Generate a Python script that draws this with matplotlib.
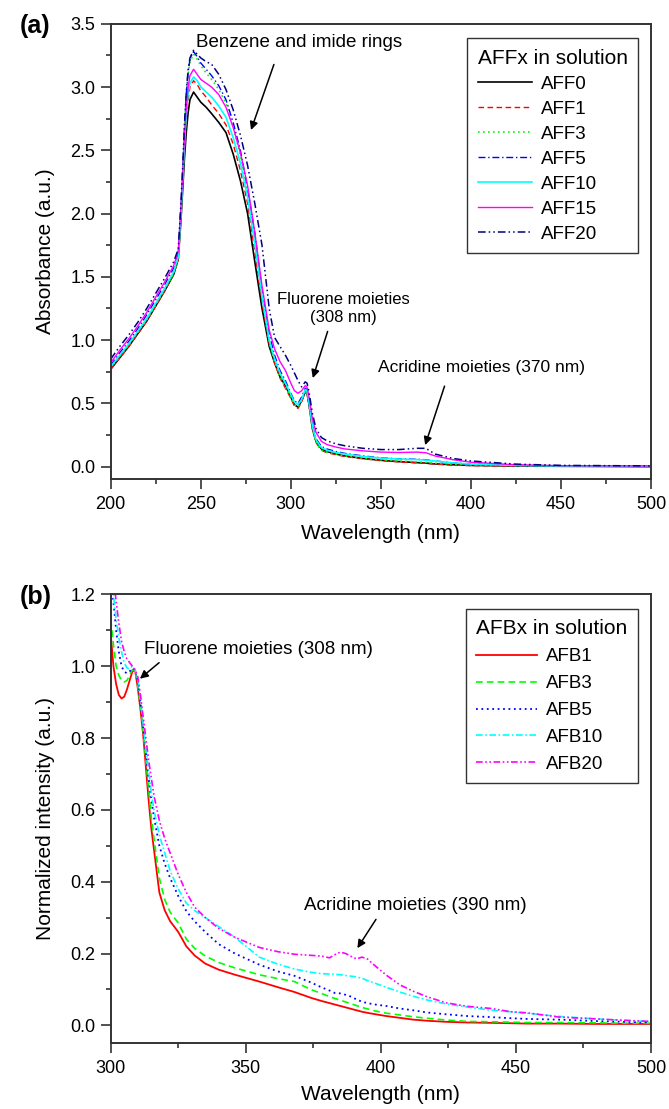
import matplotlib
matplotlib.use('Agg')
import matplotlib.pyplot as plt
from matplotlib.ticker import MultipleLocator

plt.rcParams['font.family'] = ['Liberation Sans', 'DejaVu Sans']

# ---- panel (a): absorbance of AFFx in solution ----
wl_a = [200, 205, 210, 215, 220, 225, 230, 235, 237.5, 239, 240, 241, 242, 243, 244,
        246, 248, 250, 253, 256, 260, 264, 268, 272, 276, 280, 284, 288, 291, 294,
        297, 300, 302, 304, 306, 308, 309, 310, 312, 314, 317, 320, 325, 330, 340,
        350, 360, 370, 375, 380, 390, 400, 425, 450, 500]

aff0 = [0.77, 0.86, 0.95, 1.05, 1.15, 1.27, 1.39, 1.52, 1.64, 1.95, 2.2, 2.45, 2.65, 2.8, 2.9,
        2.96, 2.92, 2.88, 2.84, 2.79, 2.72, 2.64, 2.47, 2.26, 2.0, 1.62, 1.25, 0.95, 0.82, 0.71,
        0.64, 0.55, 0.49, 0.47, 0.52, 0.59, 0.58, 0.5, 0.3, 0.2, 0.14, 0.12, 0.1, 0.085, 0.065,
        0.05, 0.04, 0.032, 0.028, 0.022, 0.015, 0.01, 0.005, 0.003, 0.0]
aff1 = [0.77, 0.86, 0.95, 1.05, 1.15, 1.27, 1.39, 1.52, 1.64, 1.97, 2.25, 2.52, 2.75, 2.9, 3.0,
        3.05, 3.02, 2.97, 2.92, 2.86, 2.79, 2.7, 2.55, 2.34, 2.08, 1.7, 1.3, 0.97, 0.82, 0.7,
        0.62, 0.54, 0.48, 0.46, 0.51, 0.59, 0.58, 0.5, 0.3, 0.19, 0.13, 0.11, 0.095, 0.08, 0.062,
        0.048, 0.038, 0.03, 0.026, 0.02, 0.012, 0.008, 0.005, 0.004, 0.002]
aff3 = [0.78, 0.87, 0.96, 1.06, 1.16, 1.28, 1.4, 1.53, 1.65, 2.02, 2.33, 2.68, 2.93, 3.1, 3.2,
        3.26, 3.22, 3.17, 3.11, 3.06, 2.98, 2.87, 2.69, 2.46, 2.16, 1.78, 1.34, 0.98, 0.83, 0.71,
        0.63, 0.55, 0.49, 0.47, 0.52, 0.6, 0.59, 0.51, 0.3, 0.19, 0.13, 0.115, 0.1, 0.085, 0.068,
        0.054, 0.045, 0.038, 0.034, 0.028, 0.02, 0.014, 0.008, 0.005, 0.003]
aff5 = [0.8, 0.9, 0.99, 1.09, 1.2, 1.32, 1.44, 1.57, 1.68, 2.05, 2.35, 2.7, 2.95, 3.12, 3.22,
        3.28, 3.24, 3.19, 3.14, 3.09, 3.01, 2.9, 2.72, 2.5, 2.2, 1.85, 1.4, 1.05, 0.88, 0.76,
        0.68, 0.58, 0.52, 0.5, 0.55, 0.62, 0.61, 0.53, 0.33, 0.22, 0.16, 0.14, 0.12, 0.105, 0.085,
        0.07, 0.062, 0.058, 0.055, 0.045, 0.03, 0.02, 0.01, 0.006, 0.004]
aff10 = [0.79, 0.88, 0.97, 1.07, 1.17, 1.29, 1.41, 1.54, 1.66, 2.0, 2.28, 2.56, 2.8, 2.95, 3.03,
         3.08, 3.05, 3.0, 2.96, 2.92, 2.85, 2.76, 2.6, 2.4, 2.13, 1.76, 1.35, 1.0, 0.85, 0.74,
         0.66, 0.57, 0.51, 0.49, 0.53, 0.61, 0.6, 0.52, 0.32, 0.21, 0.15, 0.13, 0.112, 0.1, 0.08,
         0.068, 0.06, 0.056, 0.052, 0.045, 0.03, 0.02, 0.01, 0.006, 0.004]
aff15 = [0.82, 0.92, 1.01, 1.11, 1.22, 1.34, 1.46, 1.59, 1.7, 2.05, 2.33, 2.62, 2.85, 3.0, 3.09,
         3.14, 3.1, 3.06, 3.03, 3.0, 2.94, 2.84, 2.68, 2.48, 2.22, 1.85, 1.43, 1.08, 0.93, 0.83,
         0.76, 0.66, 0.6, 0.58, 0.6, 0.64, 0.63, 0.56, 0.38, 0.27, 0.2, 0.175, 0.155, 0.14, 0.125,
         0.115, 0.112, 0.115, 0.11, 0.085, 0.055, 0.035, 0.015, 0.008, 0.005]
aff20 = [0.85, 0.95, 1.04, 1.14, 1.25, 1.37, 1.49, 1.62, 1.72, 2.08, 2.38, 2.72, 2.97, 3.14, 3.23,
         3.29, 3.26, 3.23, 3.2, 3.18, 3.1, 2.98, 2.82, 2.62, 2.38, 2.08, 1.75, 1.25, 1.02, 0.95,
         0.88, 0.8, 0.74, 0.68, 0.63, 0.67, 0.66, 0.6, 0.42, 0.3, 0.23, 0.205, 0.18, 0.165, 0.145,
         0.135, 0.135, 0.145, 0.145, 0.1, 0.065, 0.045, 0.02, 0.01, 0.006]

names_a = ['AFF0', 'AFF1', 'AFF3', 'AFF5', 'AFF10', 'AFF15', 'AFF20']

# ---- panel (b): normalized intensity of AFBx in solution ----
wl_b = [300, 301, 302, 303, 304, 305, 306, 307, 308, 309, 310, 311, 312, 313, 314, 315, 316,
        318, 320, 322, 325, 328, 331, 335, 340, 346, 355, 362, 368, 374, 378, 381, 383, 385,
        387, 389, 391, 393, 395, 398, 402, 407, 412, 417, 424, 432, 441, 448, 454, 466, 480,
        490, 500]

afb1 = [1.09, 1.0, 0.95, 0.92, 0.91, 0.915, 0.935, 0.96, 0.985, 0.99, 0.94, 0.88, 0.81, 0.72, 0.63, 0.55, 0.49,
        0.37, 0.32, 0.29, 0.26, 0.22, 0.195, 0.172, 0.155, 0.141, 0.122, 0.106, 0.093, 0.077, 0.068, 0.062, 0.058, 0.054,
        0.05, 0.046, 0.042, 0.038, 0.035, 0.031, 0.026, 0.021, 0.016, 0.013, 0.01, 0.008, 0.007, 0.006, 0.005, 0.005, 0.004,
        0.004, 0.004]
afb3 = [1.13, 1.06, 1.0, 0.975, 0.96, 0.956, 0.96, 0.975, 0.99, 0.99, 0.945, 0.89, 0.82, 0.74, 0.66, 0.58, 0.52,
        0.41, 0.35, 0.315, 0.285, 0.24, 0.215, 0.193, 0.175, 0.16, 0.141, 0.13, 0.122, 0.1, 0.089, 0.08, 0.075, 0.07,
        0.065, 0.06, 0.055, 0.05, 0.046, 0.04, 0.034, 0.029, 0.024, 0.02, 0.015, 0.011, 0.01, 0.009, 0.008, 0.008, 0.007,
        0.006, 0.006]
afb5 = [1.25, 1.18, 1.1, 1.04, 1.0, 0.985, 0.98, 0.985, 0.995, 0.99, 0.96, 0.9, 0.83, 0.76, 0.69, 0.63, 0.58,
        0.5, 0.45, 0.41, 0.36, 0.318, 0.29, 0.26, 0.226, 0.2, 0.169, 0.15, 0.138, 0.12, 0.106, 0.097, 0.09, 0.089,
        0.085, 0.08, 0.072, 0.066, 0.062, 0.058, 0.054, 0.047, 0.042, 0.036, 0.031, 0.026, 0.023, 0.02, 0.018, 0.016, 0.012,
        0.01, 0.008]
afb10 = [1.3, 1.2, 1.13, 1.08, 1.04, 1.01, 0.995, 0.993, 1.0, 0.99, 0.965, 0.91, 0.84, 0.77, 0.71, 0.65, 0.6,
         0.53, 0.48, 0.43, 0.38, 0.34, 0.32, 0.3, 0.275, 0.245, 0.19, 0.17, 0.157, 0.148, 0.144, 0.143, 0.142, 0.141,
         0.139, 0.137, 0.135, 0.131, 0.125, 0.117, 0.106, 0.093, 0.081, 0.071, 0.06, 0.051, 0.042, 0.038, 0.034, 0.025, 0.018,
         0.014, 0.011]
afb20 = [1.35, 1.25, 1.18, 1.12, 1.07, 1.04, 1.02, 1.01, 1.0, 0.99, 0.97, 0.92, 0.86, 0.8, 0.74, 0.69, 0.64,
         0.57, 0.52, 0.48, 0.42, 0.37, 0.33, 0.3, 0.27, 0.245, 0.217, 0.205, 0.198, 0.195, 0.193, 0.188, 0.197, 0.204,
         0.2, 0.192, 0.185, 0.19, 0.185, 0.165, 0.14, 0.113, 0.095, 0.08, 0.063, 0.053, 0.047, 0.038, 0.035, 0.023, 0.018,
         0.014, 0.011]

names_b = ['AFB1', 'AFB3', 'AFB5', 'AFB10', 'AFB20']

spine_col = '#333333'


def style_axes(ax):
    for sp in ax.spines.values():
        sp.set_color(spine_col)
        sp.set_linewidth(1.4)
    ax.tick_params(which='both', direction='out', top=False, right=False,
                   color=spine_col, width=1.2, labelsize=13)
    ax.tick_params(axis='x', pad=5)
    ax.tick_params(axis='y', pad=4)
    ax.tick_params(which='major', length=7)
    ax.tick_params(which='minor', length=3.5)


fig = plt.figure(figsize=(6.69, 11.09), dpi=100)
ax_a = fig.add_axes([0.1655, 0.5678, 0.8076, 0.4108])
ax_b = fig.add_axes([0.1655, 0.0592, 0.8076, 0.4049])

styles_a = [
    dict(color='black', lw=1.2, ls='-'),
    dict(color='#ff0000', lw=1.0, dashes=(4, 2.5)),
    dict(color='#00ff00', lw=1.2, dashes=(1, 2)),
    dict(color='#0000ff', lw=1.0, dashes=(5, 2, 1, 2)),
    dict(color='#00ffff', lw=1.2, ls='-'),
    dict(color='#ff00ff', lw=1.0, ls='-'),
    dict(color='#000080', lw=1.1, dashes=(5, 2, 1, 2, 1, 2)),
]
for ys, name, st in zip([aff0, aff1, aff3, aff5, aff10, aff15, aff20], names_a, styles_a):
    ax_a.plot(wl_a, ys, label=name, **st)

ax_a.set_xlim(200, 500)
ax_a.set_ylim(-0.1, 3.5)
ax_a.xaxis.set_major_locator(MultipleLocator(50))
ax_a.xaxis.set_minor_locator(MultipleLocator(25))
ax_a.yaxis.set_major_locator(MultipleLocator(0.5))
ax_a.yaxis.set_minor_locator(MultipleLocator(0.25))
ax_a.yaxis.set_major_formatter('{x:.1f}')
style_axes(ax_a)
ax_a.set_xlabel('Wavelength (nm)', fontsize=15)
ax_a.set_ylabel('Absorbance (a.u.)', fontsize=15)
ax_a.xaxis.set_label_coords(0.5, -0.118)
ax_a.xaxis.label.set_va('center')
ax_a.yaxis.set_label_coords(-0.1216, 0.5)
ax_a.yaxis.label.set_va('center')

leg_a = ax_a.legend(title='AFFx in solution', loc='upper right', bbox_to_anchor=(0.976, 0.968),
                    borderaxespad=0, fontsize=13.5, title_fontsize=15, fancybox=False,
                    edgecolor='black', handlelength=2.9, handletextpad=0.45,
                    labelspacing=0.42, borderpad=0.55, alignment='left')
leg_a.get_frame().set_linewidth(1.0)

ax_a.annotate('Benzene and imide rings', xy=(277.9, 2.66), xytext=(247.4, 3.35),
              fontsize=13.5, va='center', ha='left',
              arrowprops=dict(arrowstyle='-|>', color='black', lw=1.1, shrinkA=8, shrinkB=0,
                              mutation_scale=12, relpos=(0.4, 0.0)))
ax_a.annotate('Fluorene moieties\n(308 nm)', xy=(312.2, 0.70), xytext=(329, 1.25),
              fontsize=12, va='center', ha='center', multialignment='center',
              arrowprops=dict(arrowstyle='-|>', color='black', lw=1.1, shrinkA=3, shrinkB=0,
                              mutation_scale=12, relpos=(0.4, 0.0)))
ax_a.annotate('Acridine moieties (370 nm)', xy=(374.6, 0.17), xytext=(405.7, 0.78),
              fontsize=12.5, va='center', ha='center',
              arrowprops=dict(arrowstyle='-|>', color='black', lw=1.1, shrinkA=6, shrinkB=0,
                              mutation_scale=12, relpos=(0.34, 0.0)))

styles_b = [
    dict(color='#ff0000', lw=1.3, ls='-'),
    dict(color='#00ff00', lw=1.2, dashes=(4, 2.5)),
    dict(color='#0000ff', lw=1.3, dashes=(1, 2)),
    dict(color='#00ffff', lw=1.2, dashes=(4, 1.5, 1, 1.5)),
    dict(color='#ff00ff', lw=1.2, dashes=(4, 1.5, 1, 1.5, 1, 1.5)),
]
for ys, name, st in zip([afb1, afb3, afb5, afb10, afb20], names_b, styles_b):
    ax_b.plot(wl_b, ys, label=name, **st)

ax_b.set_xlim(300, 500)
ax_b.set_ylim(-0.05, 1.2)
ax_b.xaxis.set_major_locator(MultipleLocator(50))
ax_b.xaxis.set_minor_locator(MultipleLocator(25))
ax_b.yaxis.set_major_locator(MultipleLocator(0.2))
ax_b.yaxis.set_minor_locator(MultipleLocator(0.1))
ax_b.yaxis.set_major_formatter('{x:.1f}')
style_axes(ax_b)
ax_b.set_xlabel('Wavelength (nm)', fontsize=15)
ax_b.set_ylabel('Normalized intensity (a.u.)', fontsize=15)
ax_b.xaxis.set_label_coords(0.5, -0.115)
ax_b.xaxis.label.set_va('center')
ax_b.yaxis.set_label_coords(-0.1216, 0.5)
ax_b.yaxis.label.set_va('center')

leg_b = ax_b.legend(title='AFBx in solution', loc='upper right', bbox_to_anchor=(0.976, 0.967),
                    borderaxespad=0, fontsize=13.5, title_fontsize=15, fancybox=False,
                    edgecolor='black', handlelength=3.25, handletextpad=0.45,
                    labelspacing=0.52, borderpad=0.55, alignment='left')
leg_b.get_frame().set_linewidth(1.0)

ax_b.annotate('Fluorene moieties (308 nm)', xy=(310.8, 0.965), xytext=(312.3, 1.046),
              fontsize=13.5, va='center', ha='left',
              arrowprops=dict(arrowstyle='-|>', color='black', lw=1.1, shrinkA=2, shrinkB=0,
                              mutation_scale=12, relpos=(0.09, 0.0)))
ax_b.annotate('Acridine moieties (390 nm)', xy=(391.3, 0.215), xytext=(412.6, 0.333),
              fontsize=13.5, va='center', ha='center',
              arrowprops=dict(arrowstyle='-|>', color='black', lw=1.1, shrinkA=2, shrinkB=0,
                              mutation_scale=12, relpos=(0.34, 0.0)))

fig.text(20 / 669, 1 - 26 / 1109, '(a)', fontsize=18, fontweight='bold', va='center', ha='left')
fig.text(20 / 669, 1 - 597 / 1109, '(b)', fontsize=18, fontweight='bold', va='center', ha='left')

fig.savefig('out.png', dpi=100)
